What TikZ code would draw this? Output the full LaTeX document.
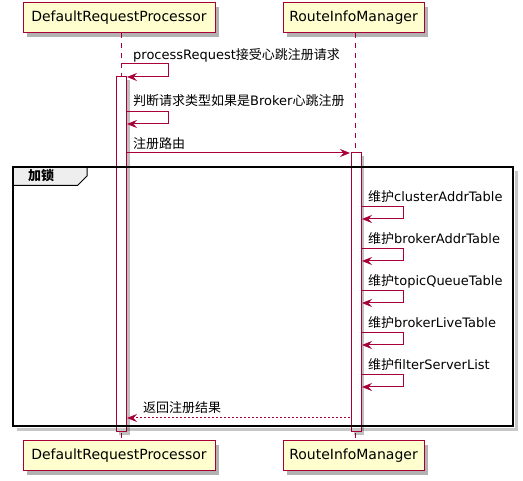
\documentclass[tikz,border=0pt]{standalone}
\usepackage{fontspec}
\setmainfont{DejaVu Sans}
\newfontfamily\cjk{Noto Sans CJK SC}
\usetikzlibrary{arrows.meta,shadows}
\definecolor{puborder}{HTML}{A80036}
\definecolor{pufill}{HTML}{FEFECE}
\definecolor{tabfill}{HTML}{EEEEEE}
\tikzset{
  pshadow/.style={drop shadow={shadow xshift=4pt,shadow yshift=-4pt,opacity=0.3,fill=black}},
  part/.style={draw=puborder, fill=pufill, line width=1pt, minimum height=30pt,
    inner sep=0pt, font=\fontsize{14}{16}\selectfont, pshadow},
  life/.style={draw=puborder, line width=0.8pt, dash pattern=on 5pt off 5pt},
  actbar/.style={draw=puborder, fill=white, line width=1pt,
    drop shadow={shadow xshift=3pt,shadow yshift=-3pt,opacity=0.25,fill=black}},
  msg/.style={draw=puborder, line width=1pt, -{Stealth[length=10pt,width=8pt,inset=3.5pt]}},
  retmsg/.style={msg, dash pattern=on 2pt off 2pt},
  lbl/.style={anchor=base west, inner sep=0pt, font=\fontsize{13}{15}\selectfont},
  frameshadow/.style={draw=black, opacity=0.22, line width=3pt},
}
\begin{document}
\begin{tikzpicture}[x=1pt,y=-1pt]
\useasboundingbox (0,0) rectangle (523,481);
% participants
\node[part, minimum width=192pt] (pA) at (119,18) {DefaultRequestProcessor};
\node[part, minimum width=141pt] (pB) at (353.5,18) {RouteInfoManager};
\node[part, minimum width=192pt] (pA2) at (119,456) {DefaultRequestProcessor};
\node[part, minimum width=141pt] (pB2) at (353.5,456) {RouteInfoManager};
% lifelines
\coordinate (lAt) at (121.5,33.5);
\coordinate (lAb) at (121.5,440.5);
\coordinate (lBt) at (355.5,33.5);
\coordinate (lBb) at (355.5,440.5);
\draw[life] (lAt) -- (lAb);
\draw[life] (lBt) -- (lBb);
% activations
\draw[actbar] (116,77) rectangle (126.5,432);
\draw[actbar] (351,153) rectangle (361,432);
% group frame
\coordinate (f1) at (516,171);
\coordinate (f2) at (516,429.5);
\coordinate (f3) at (17,429.5);
\draw[frameshadow] (f1) -- (f2) -- (f3);
\coordinate (t1) at (13,167);
\coordinate (t2) at (87,167);
\coordinate (t3) at (87,176);
\coordinate (t4) at (77.5,185.5);
\coordinate (t5) at (13,185.5);
\filldraw[fill=tabfill, draw=black, line width=1pt] (t1) -- (t2) -- (t3) -- (t4) -- (t5) -- cycle;
\draw[black, line width=2pt] (13,167) rectangle (513,426);
\node[lbl, font=\fontsize{13}{15}\selectfont\cjk\bfseries] (glbl) at (28,181) {加锁};
% message 1
\coordinate (m1a) at (121.5,64);
\coordinate (m1b) at (168,64);
\coordinate (m1c) at (168,77);
\coordinate (m1d) at (127,77);
\draw[msg] (m1a) -- (m1b) -- (m1c) -- (m1d);
\node[lbl] (l1) at (133,59.5) {processRequest{\cjk 接受心跳注册请求}};
% message 2
\coordinate (m2a) at (126.5,112);
\coordinate (m2b) at (168,112);
\coordinate (m2c) at (168,124);
\coordinate (m2d) at (127,124);
\draw[msg] (m2a) -- (m2b) -- (m2c) -- (m2d);
\node[lbl] (l2) at (133,106) {{\cjk 判断请求类型如果是}Broker{\cjk 心跳注册}};
% message 3
\coordinate (m3a) at (126.5,153);
\coordinate (m3b) at (350,153);
\draw[msg] (m3a) -- (m3b);
\node[lbl] (l3) at (133,149) {{\cjk 注册路由}};
% self messages on B
\foreach \i/\txt in {0/clusterAddrTable,1/brokerAddrTable,2/topicQueueTable,3/brokerLiveTable,4/filterServerList}{
  \coordinate (sa\i) at (361,207+42*\i);
  \coordinate (sb\i) at (403,207+42*\i);
  \coordinate (sc\i) at (403,219+42*\i);
  \coordinate (sd\i) at (362,219+42*\i);
  \draw[msg] (sa\i) -- (sb\i) -- (sc\i) -- (sd\i);
  \node[lbl] (sl\i) at (368,202+42*\i) {{\cjk 维护}\txt};
}
% return
\coordinate (r1) at (350,418);
\coordinate (r2) at (127,418);
\draw[retmsg] (r1) -- (r2);
\node[lbl] (lr) at (143,413) {{\cjk 返回注册结果}};
\end{tikzpicture}
\end{document}
